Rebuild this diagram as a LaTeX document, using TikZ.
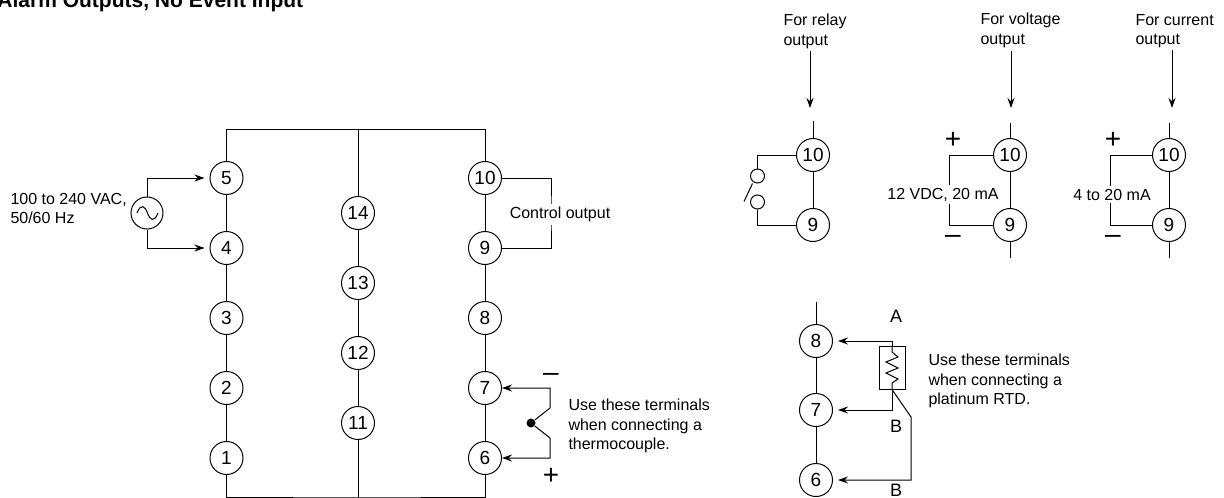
\documentclass[tikz,border=0pt]{standalone}
\usepackage{fontspec}
\setmainfont{Liberation Sans}
\usetikzlibrary{arrows.meta}
\tikzset{
    terminal/.style={circle,draw,inner sep=0pt,minimum size=33pt,font=\fontsize{19}{19}\selectfont},
    legend/.style={font=\fontsize{16}{19.3}\selectfont,align=left,inner sep=0pt},
    gapped/.style={legend,fill=white,inner ysep=3pt,inner xsep=1pt},
    sign/.style={font=\fontsize{28}{28}\selectfont,inner sep=0pt},
    letter/.style={font=\fontsize{18}{18}\selectfont,inner sep=0pt}
}

\begin{document}
\begin{tikzpicture}[x=1pt,y=-1pt,line width=1pt,>={Stealth[length=10pt,width=7pt]}]
\useasboundingbox (0,0) rectangle (1224,498);

\node[font=\fontsize{21}{21}\selectfont\bfseries,anchor=base west,inner sep=0pt] (title) at (-3,7.5) {Alarm Outputs, No Event Input};

% main terminal block
\begin{scope}[every node/.style={terminal}]
    \node (t5) at (226.5,178) {5};
    \node (t4) at (226.5,248) {4};
    \node (t3) at (226.5,318) {3};
    \node (t2) at (226.5,388) {2};
    \node (t1) at (226.5,458) {1};

    \node (t14) at (358,213) {14};
    \node (t13) at (358,283) {13};
    \node (t12) at (358,353) {12};
    \node (t11) at (358,423) {11};

    \node (t10) at (485,178) {10};
    \node (t9) at (485,248) {9};
    \node (t8) at (485,318) {8};
    \node (t7) at (485,388) {7};
    \node (t6) at (485,458) {6};
\end{scope}

\coordinate (top) at (358,129.5);
\coordinate (bottom) at (358,497);
\draw (t5.north) |- (top) -| (t10.north);
\draw (t1.south) |- (bottom) -| (t6.south);
\draw (t14.north) -- (top);
\draw (t11.south) -- (bottom);
\path (t5) edge (t4) (t4) edge (t3) (t3) edge (t2) (t2) edge (t1);
\path (t14) edge (t13) (t13) edge (t12) (t12) edge (t11);
\path (t10) edge (t9) (t9) edge (t8) (t8) edge (t7) (t7) edge (t6);

% power supply
\node[circle,draw,inner sep=0pt,minimum size=32pt] (ac) at (147,213) {};
\draw (137,213) .. controls (141,203) and (145,206) .. (147.5,213) .. controls (150,220) and (154,223) .. (158,213);
\node[legend,anchor=west] (supply) at (10,208.5) {100 to 240 VAC,\\50/60 Hz};
\draw[->,shorten >=5pt] (ac.north) |- (t5);
\draw[->,shorten >=5pt] (ac.south) |- (t4);

% control output
\coordinate (ctrl) at (551,213);
\draw (t10) -| (ctrl) |- (t9);
\node[gapped] (ctrllabel) at (560,214.5) {Control output};

% thermocouple
\node[circle,fill,inner sep=0pt,minimum size=9pt] (junction) at (531,423) {};
\coordinate (tcminus) at (550,408);
\coordinate (tcplus) at (550,438);
\draw[->] (junction) -- (tcminus) |- (t7);
\draw[->] (junction) -- (tcplus) |- (t6);
\node[sign] (minus) at (551,377) {--};
\node[sign] (plus) at (551,476) {+};
\node[legend,anchor=west] (tcnote) at (568,426) {Use these terminals\\when connecting a\\thermocouple.};

% relay output
\node[legend,anchor=west] (relaylabel) at (783,31.5) {For relay\\output};
\coordinate (relayin) at (810,51);
\coordinate (relaytip) at (810,108);
\draw[->] (relayin) -- (relaytip);
\node[terminal] (r10) at (813,155) {10};
\node[terminal] (r9) at (813,225) {9};
\coordinate (relaystub) at (813,121);
\draw (relaystub) -- (r10) (r10) -- (r9);
\node[circle,draw,inner sep=0pt,minimum size=14pt] (cup) at (757.5,176) {};
\node[circle,draw,inner sep=0pt,minimum size=14pt] (cdown) at (757.5,202) {};
\draw (r10) -| (cup);
\draw (r9) -| (cdown);
\draw (744,201.5) -- (752.5,183.5);

% voltage output
\node[legend,anchor=west] (voltlabel) at (980,30.5) {For voltage\\output};
\coordinate (voltin) at (1011,51);
\coordinate (volttip) at (1011,108);
\draw[->] (voltin) -- (volttip);
\node[terminal] (v10) at (1010,155) {10};
\node[terminal] (v9) at (1010,225) {9};
\coordinate (voltup) at (1010,123);
\coordinate (voltdown) at (1010,258);
\draw (voltup) -- (v10) (v10) -- (v9) (v9) -- (voltdown);
\coordinate (voltside) at (949,190);
\draw (v10) -| (voltside) |- (v9);
\node[gapped] (voltval) at (943,194.5) {12 VDC, 20 mA};
\node[sign] (vplus) at (953,140) {+};
\node[sign] (vminus) at (953,239) {--};

% current output
\node[legend,anchor=west] (currlabel) at (1135,31.5) {For current\\output};
\coordinate (currin) at (1172,50);
\coordinate (currtip) at (1172,108);
\draw[->] (currin) -- (currtip);
\node[terminal] (c10) at (1169,155) {10};
\node[terminal] (c9) at (1169,225) {9};
\coordinate (currup) at (1169,123);
\coordinate (currdown) at (1169,258);
\draw (currup) -- (c10) (c10) -- (c9) (c9) -- (currdown);
\coordinate (currside) at (1110,190);
\draw (c10) -| (currside) |- (c9);
\node[gapped] (currval) at (1112,194.5) {4 to 20 mA};
\node[sign] (cplus) at (1113,140) {+};
\node[sign] (cminus) at (1113,239) {--};

% platinum RTD
\node[terminal] (p8) at (816,341) {8};
\node[terminal] (p7) at (816,410) {7};
\node[terminal] (p6) at (816,480) {6};
\coordinate (rtdstub) at (816,302);
\draw (rtdstub) -- (p8) (p8) -- (p7) (p7) -- (p6);
\node[draw,inner sep=0pt,minimum width=26pt,minimum height=43pt] (rtd) at (892,367.5) {};
\coordinate (rtdbend) at (911,417);
\draw (rtd.north) -- (892,352) -- (898,357) -- (886,362) -- (898,368) -- (886,373) -- (898,379) -- (892,383) -- (rtd.south);
\draw[->,shorten >=5pt] (rtd.north) |- (p8);
\draw[->,shorten >=5pt] (rtd.south) |- (p7);
\draw[->,shorten >=5pt] (rtd.south) -- (rtdbend) |- (p6);
\node[letter] (la) at (896,316) {A};
\node[letter] (lb) at (896,426) {B};
\node[letter] (lbb) at (896,490) {B};
\node[legend,anchor=west] (rtdnote) at (928,381) {Use these terminals\\when connecting a\\platinum RTD.};
\end{tikzpicture}
\end{document}
